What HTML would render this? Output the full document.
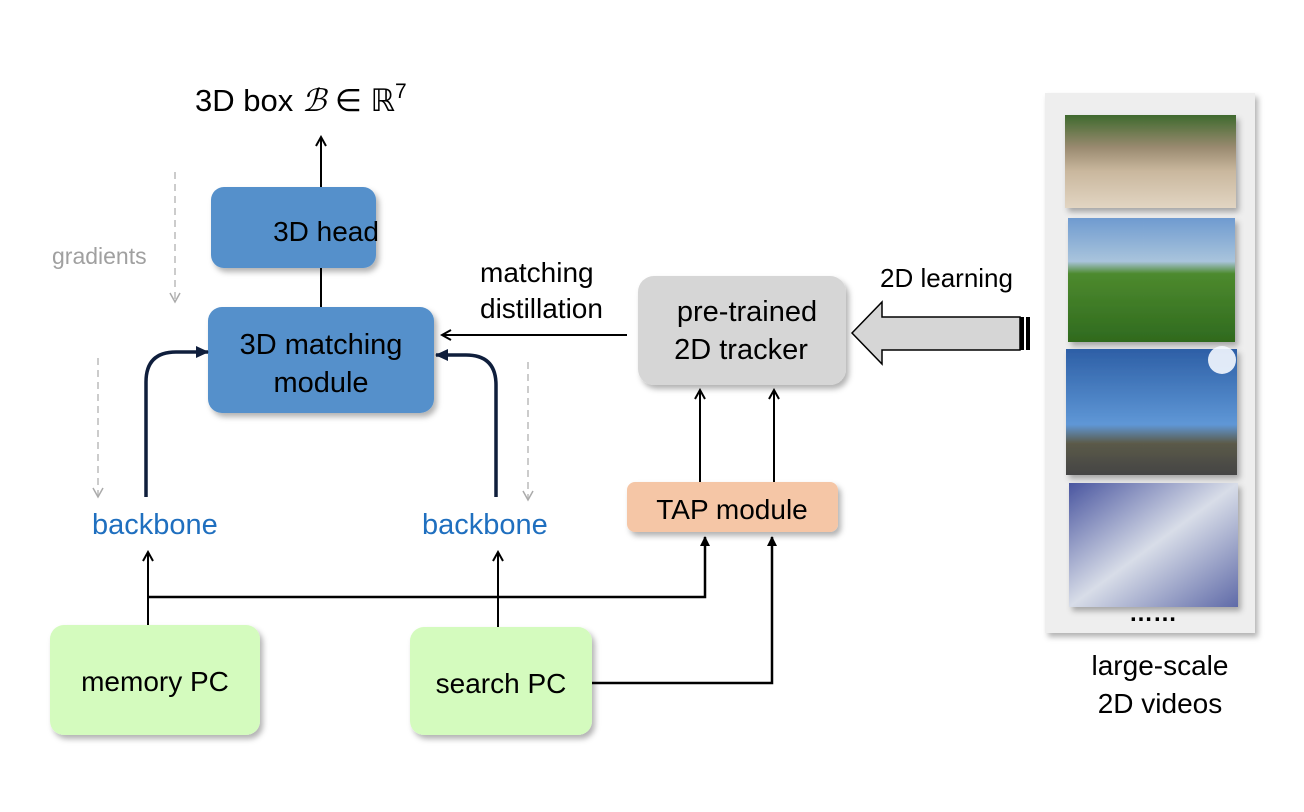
<!DOCTYPE html>
<html><head><meta charset="utf-8"><style>
html,body{margin:0;padding:0;background:#fff;}
svg{display:block;font-family:"Liberation Sans",sans-serif;}
</style></head><body>
<svg width="1304" height="812" viewBox="0 0 1304 812" xmlns="http://www.w3.org/2000/svg">
<defs>
<filter id="sh" x="-10%" y="-10%" width="130%" height="130%"><feDropShadow dx="3" dy="4" stdDeviation="3" flood-color="#000" flood-opacity="0.3"/></filter>
<marker id="ah" markerWidth="12" markerHeight="12" refX="10" refY="6" orient="auto" markerUnits="userSpaceOnUse"><path d="M1,1 L10,6 L1,11" fill="none" stroke="#000" stroke-width="2"/></marker>
<marker id="af" markerWidth="14" markerHeight="14" refX="12" refY="7" orient="auto" markerUnits="userSpaceOnUse"><path d="M0,1 L13,7 L0,13 z" fill="#0f1e3c"/></marker>
<marker id="ag" markerWidth="12" markerHeight="12" refX="10" refY="6" orient="auto" markerUnits="userSpaceOnUse"><path d="M1,1 L10,6 L1,11" fill="none" stroke="#aaa" stroke-width="1.5"/></marker>
<marker id="at" markerWidth="10" markerHeight="10" refX="9" refY="5" orient="auto" markerUnits="userSpaceOnUse"><path d="M0,0 L10,5 L0,10 z" fill="#000"/></marker>
<linearGradient id="p1" x1="0" y1="0" x2="0" y2="1"><stop offset="0" stop-color="#3f6a2e"/><stop offset="0.35" stop-color="#9a8a70"/><stop offset="0.6" stop-color="#c9b79d"/><stop offset="1" stop-color="#e2d5c2"/></linearGradient>
<linearGradient id="p2" x1="0" y1="0" x2="0" y2="1"><stop offset="0" stop-color="#6f9bd0"/><stop offset="0.35" stop-color="#a9c4dc"/><stop offset="0.45" stop-color="#4d8a2e"/><stop offset="1" stop-color="#2f6a1e"/></linearGradient>
<linearGradient id="p3" x1="0" y1="0" x2="0" y2="1"><stop offset="0" stop-color="#2d5fa6"/><stop offset="0.6" stop-color="#5f97d6"/><stop offset="0.75" stop-color="#5b5a48"/><stop offset="1" stop-color="#444"/></linearGradient>
<linearGradient id="p4" x1="0" y1="0" x2="1" y2="1"><stop offset="0" stop-color="#4a56a0"/><stop offset="0.5" stop-color="#d8dde8"/><stop offset="1" stop-color="#5f6aa8"/></linearGradient>
</defs>

<text x="195" y="111" font-size="31">3D box <tspan font-family="Liberation Serif,serif" font-style="italic">ℬ</tspan> ∈ ℝ<tspan dy="-13" font-size="21">7</tspan></text>
<line x1="321" y1="187" x2="321" y2="137" stroke="#000" stroke-width="2" marker-end="url(#ah)"/>

<text x="52" y="264" font-size="23" fill="#a0a0a0">gradients</text>
<line x1="175" y1="172" x2="175" y2="302" stroke="#bbb" stroke-width="1.5" stroke-dasharray="7,5" marker-end="url(#ag)"/>
<line x1="98" y1="358" x2="98" y2="497" stroke="#bbb" stroke-width="1.5" stroke-dasharray="7,5" marker-end="url(#ag)"/>
<line x1="528" y1="362" x2="528" y2="500" stroke="#bbb" stroke-width="1.5" stroke-dasharray="7,5" marker-end="url(#ag)"/>

<rect x="211" y="187" width="165" height="81" rx="13" fill="#5490cb" filter="url(#sh)"/>
<text x="326" y="241" font-size="28" text-anchor="middle">3D head</text>
<line x1="321" y1="268" x2="321" y2="307" stroke="#000" stroke-width="2"/>
<rect x="208" y="307" width="226" height="106" rx="14" fill="#5490cb" filter="url(#sh)"/>
<text x="321" y="354" font-size="29" text-anchor="middle">3D matching</text>
<text x="321" y="392" font-size="29" text-anchor="middle">module</text>

<path d="M146,497 L146,382 Q146,352 176,352 L208,352" fill="none" stroke="#0f1e3c" stroke-width="3.5" marker-end="url(#af)"/>
<path d="M496,497 L496,385 Q496,355 466,355 L436,355" fill="none" stroke="#0f1e3c" stroke-width="3.5" marker-end="url(#af)"/>

<text x="92" y="534" font-size="29" fill="#1f6fbf">backbone</text>
<text x="422" y="534" font-size="29" fill="#1f6fbf">backbone</text>

<rect x="50" y="625" width="210" height="110" rx="14" fill="#d4fbbe" filter="url(#sh)"/>
<text x="155" y="691" font-size="28" text-anchor="middle">memory PC</text>
<rect x="410" y="627" width="182" height="108" rx="14" fill="#d4fbbe" filter="url(#sh)"/>
<text x="501" y="693" font-size="28" text-anchor="middle">search PC</text>

<line x1="148" y1="625" x2="148" y2="552" stroke="#000" stroke-width="2" marker-end="url(#ah)"/>
<polyline points="148,597 705,597 705,537" fill="none" stroke="#000" stroke-width="2.5" marker-end="url(#at)"/>
<line x1="498" y1="627" x2="498" y2="552" stroke="#000" stroke-width="2" marker-end="url(#ah)"/>
<polyline points="592,683 772,683 772,537" fill="none" stroke="#000" stroke-width="2.5" marker-end="url(#at)"/>

<rect x="627" y="482" width="211" height="50" rx="8" fill="#f5c6a6" filter="url(#sh)"/>
<text x="732" y="519" font-size="28" text-anchor="middle">TAP module</text>
<line x1="700" y1="482" x2="700" y2="390" stroke="#000" stroke-width="2" marker-end="url(#ah)"/>
<line x1="774" y1="482" x2="774" y2="390" stroke="#000" stroke-width="2" marker-end="url(#ah)"/>

<rect x="638" y="276" width="208" height="109" rx="16" fill="#d6d6d6" filter="url(#sh)"/>
<text x="747" y="321" font-size="29" text-anchor="middle">pre-trained</text>
<text x="741" y="359" font-size="29" text-anchor="middle">2D tracker</text>

<text x="480" y="282" font-size="28">matching</text>
<text x="480" y="318" font-size="28">distillation</text>
<line x1="627" y1="335" x2="442" y2="335" stroke="#000" stroke-width="2" marker-end="url(#ah)"/>

<text x="880" y="287" font-size="26">2D learning</text>
<path d="M852,333 L882,302 L882,317 L1020,317 L1020,350 L882,350 L882,364 Z" fill="#d6d6d6" stroke="#000" stroke-width="1.5"/>
<rect x="1020" y="317" width="4" height="33" fill="#000"/>
<rect x="1026" y="317" width="4" height="33" fill="#000"/>

<rect x="1045" y="93" width="210" height="540" fill="#eeeeee" filter="url(#sh)"/>
<rect x="1065" y="115" width="171" height="93" fill="url(#p1)" filter="url(#sh)"/>
<rect x="1068" y="218" width="167" height="124" fill="url(#p2)" filter="url(#sh)"/>
<rect x="1066" y="349" width="171" height="126" fill="url(#p3)" filter="url(#sh)"/>
<circle cx="1222" cy="360" r="14" fill="#f4f8ff" opacity="0.9"/>
<rect x="1069" y="483" width="169" height="124" fill="url(#p4)" filter="url(#sh)"/>
<text x="1153" y="621" font-size="24" font-weight="bold" text-anchor="middle">……</text>
<text x="1160" y="675" font-size="28" text-anchor="middle">large-scale</text>
<text x="1160" y="713" font-size="28" text-anchor="middle">2D videos</text>
</svg>
</body></html>
